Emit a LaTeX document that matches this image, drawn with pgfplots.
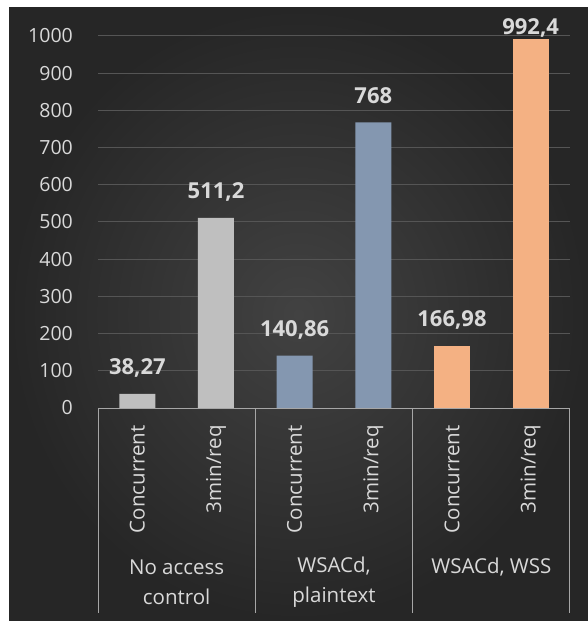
\documentclass[border=0pt]{standalone}
\usepackage{fontspec}
\setmainfont{Open Sans}
\usepackage{pgfplots}
\pgfplotsset{compat=1.18}
\definecolor{bargrey}{HTML}{BFBFBF}
\definecolor{barblue}{HTML}{8497B0}
\definecolor{barorange}{HTML}{F4B183}
\definecolor{txt}{HTML}{D9D9D9}
\definecolor{gridc}{HTML}{555555}
\definecolor{axc}{HTML}{A6A6A6}
\definecolor{bgin}{HTML}{424242}
\definecolor{bgout}{HTML}{262626}
\newcommand{\tickfont}{\fontsize{19.5}{23}\selectfont}
\newcommand{\lblfont}{\fontsize{20.5}{30}\selectfont}
\newcommand{\valfont}{\bfseries\fontsize{22}{26}\selectfont}
\tikzset{catlbl/.style={color=txt, font=\lblfont, rotate=90, anchor=east, inner sep=0pt}}
\begin{document}
\begin{tikzpicture}[x=1pt,y=1pt]
\fill[white] (0,0) rectangle (588,621);
\shade[inner color=bgin, outer color=bgout] (9,0) rectangle (588,613);
\begin{axis}[
  at={(98pt,213pt)}, anchor=south west,
  scale only axis, width=472pt, height=372pt,
  xmin=-0.5, xmax=5.5, ymin=0, ymax=1000,
  axis line style={draw=none},
  xtick=\empty,
  ytick={0,100,...,1000},
  major tick length=0pt,
  ymajorgrids, grid style={color=gridc, line width=1pt},
  yticklabel style={font=\tickfont, color=txt, anchor=east, inner sep=0pt, xshift=-25pt,
    /pgf/number format/assume math mode=true, /pgf/number format/set thousands separator={}},
  ybar, bar width=36pt, bar shift=0pt,
  clip=false,
  nodes near coords,
  point meta=explicit symbolic,
  every node near coord/.append style={font=\valfont, color=txt, anchor=base, inner sep=0pt, yshift=19pt},
]
\addplot[fill=bargrey, draw=none] coordinates {(0,38.27) [38,27] (1,511.2) [511,2]};
\addplot[fill=barblue, draw=none] coordinates {(2,140.86) [140,86] (3,768) [768]};
\addplot[fill=barorange, draw=none] coordinates {(4,166.98) [166,98]};
\addplot[fill=barorange, draw=none, every node near coord/.append style={yshift=-15pt}] coordinates {(5,992.4) [992,4]};
\draw[axc, line width=1pt] (axis cs:-0.5,0) -- (axis cs:5.5,0);
\draw[axc, line width=1pt] (axis cs:-0.5,0) -- ([yshift=-205pt]axis cs:-0.5,0);
\draw[axc, line width=1pt] (axis cs:1.5,0) -- ([yshift=-205pt]axis cs:1.5,0);
\draw[axc, line width=1pt] (axis cs:3.5,0) -- ([yshift=-205pt]axis cs:3.5,0);
\draw[axc, line width=1pt] (axis cs:5.5,0) -- ([yshift=-205pt]axis cs:5.5,0);
\node[catlbl] at ([yshift=-17pt]axis cs:0,0) {Concurrent};
\node[catlbl] at ([yshift=-17pt]axis cs:1,0) {3min/req};
\node[catlbl] at ([yshift=-17pt]axis cs:2,0) {Concurrent};
\node[catlbl] at ([yshift=-17pt]axis cs:3,0) {3min/req};
\node[catlbl] at ([yshift=-17pt]axis cs:4,0) {Concurrent};
\node[catlbl] at ([yshift=-17pt]axis cs:5,0) {3min/req};
\node[color=txt, font=\lblfont, align=center] at ([yshift=-174pt]axis cs:0.5,0) {No access\\control};
\node[color=txt, font=\lblfont, align=center] at ([yshift=-174pt]axis cs:2.5,0) {WSACd,\\plaintext};
\node[color=txt, font=\lblfont, align=center] at ([yshift=-159pt]axis cs:4.5,0) {WSACd, WSS};
\end{axis}
\end{tikzpicture}
\end{document}
